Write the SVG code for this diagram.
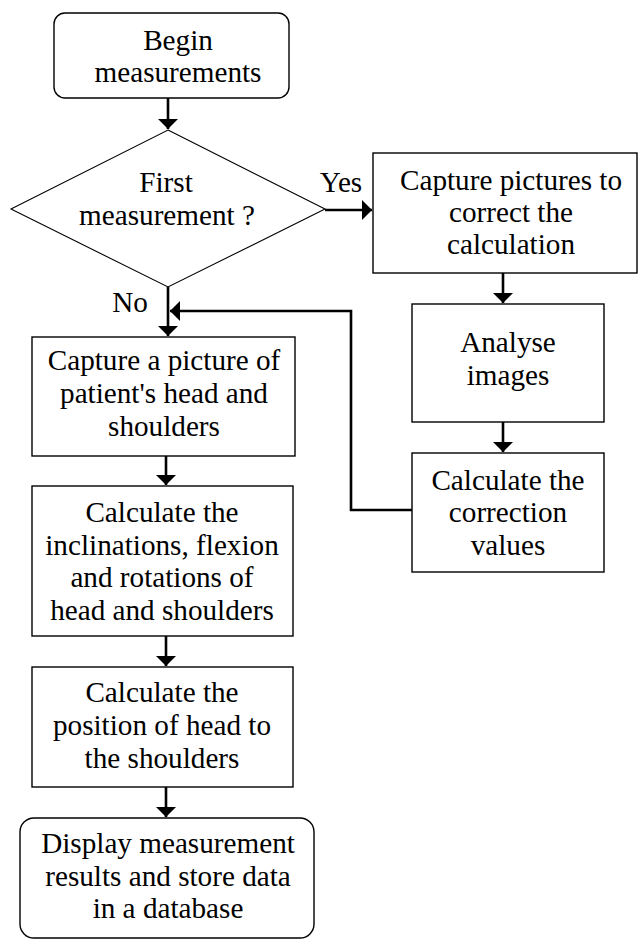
<svg xmlns="http://www.w3.org/2000/svg" width="638" height="939" viewBox="0 0 638 939">
<defs>
<style>
.box{fill:#fff;stroke:#000;stroke-width:1.4}
.dia{fill:#fff;stroke:#000;stroke-width:1.1}
text{font-family:'Liberation Serif','DejaVu Serif',serif;font-size:29.2px;fill:#000;text-anchor:middle}
.c{fill:none;stroke:#000;stroke-width:2.6}
</style>
<marker id="ahb" viewBox="0 0 10 10" refX="10" refY="5" markerWidth="10" markerHeight="20" markerUnits="userSpaceOnUse" orient="auto" preserveAspectRatio="none">
<path d="M0,0 L10,5 L0,10 z" fill="#000"/>
</marker>
</defs>
<g id="connectors">
<line class="c" x1="168" y1="98" x2="168" y2="129" marker-end="url(#ahb)"/>
<line class="c" x1="325" y1="210" x2="372" y2="210" marker-end="url(#ahb)"/>
<line class="c" x1="168" y1="287" x2="168" y2="336" marker-end="url(#ahb)"/>
<polyline class="c" points="415,510 351,510 351,311 170,311" marker-end="url(#ahb)"/>
<line class="c" x1="503" y1="273" x2="503" y2="303" marker-end="url(#ahb)"/>
<line class="c" x1="503" y1="422" x2="503" y2="452" marker-end="url(#ahb)"/>
<line class="c" x1="166" y1="456" x2="166" y2="485" marker-end="url(#ahb)"/>
<line class="c" x1="166" y1="636" x2="166" y2="666" marker-end="url(#ahb)"/>
<line class="c" x1="166" y1="787" x2="166" y2="817" marker-end="url(#ahb)"/>
</g>
<g id="begin">
<rect class="box" x="54" y="13" width="235" height="85" rx="11"/>
<text x="178" y="50">Begin</text>
<text x="178" y="82">measurements</text>
</g>
<g id="decision">
<polygon class="dia" points="168,130 325,209 168,287 11,209"/>
<text x="166" y="192">First</text>
<text x="167" y="225">measurement ?</text>
<text x="341" y="192">Yes</text>
<text x="130" y="312">No</text>
</g>
<g id="capture-pictures">
<rect class="box" x="373" y="153" width="264" height="120"/>
<text x="511" y="190">Capture pictures to</text>
<text x="511" y="222">correct the</text>
<text x="511" y="254">calculation</text>
</g>
<g id="analyse">
<rect class="box" x="412" y="304" width="192" height="118"/>
<text x="508" y="352">Analyse</text>
<text x="508" y="385">images</text>
</g>
<g id="correction">
<rect class="box" x="412" y="453" width="192" height="119"/>
<text x="508" y="490">Calculate the</text>
<text x="508" y="522">correction</text>
<text x="508" y="555">values</text>
</g>
<g id="capture-head">
<rect class="box" x="32" y="337" width="263" height="119"/>
<text x="164" y="370">Capture a picture of</text>
<text x="164" y="403">patient's head and</text>
<text x="164" y="436">shoulders</text>
</g>
<g id="inclinations">
<rect class="box" x="32" y="486" width="261" height="150"/>
<text x="162" y="522">Calculate the</text>
<text x="162" y="555">inclinations, flexion</text>
<text x="162" y="587">and rotations of</text>
<text x="162" y="620">head and shoulders</text>
</g>
<g id="position">
<rect class="box" x="32" y="667" width="261" height="120"/>
<text x="162" y="702">Calculate the</text>
<text x="162" y="735">position of head to</text>
<text x="162" y="768">the shoulders</text>
</g>
<g id="display">
<rect class="box" x="20" y="818" width="294" height="120" rx="14"/>
<text x="168" y="853">Display measurement</text>
<text x="168" y="886">results and store data</text>
<text x="168" y="918">in a database</text>
</g>
</svg>
